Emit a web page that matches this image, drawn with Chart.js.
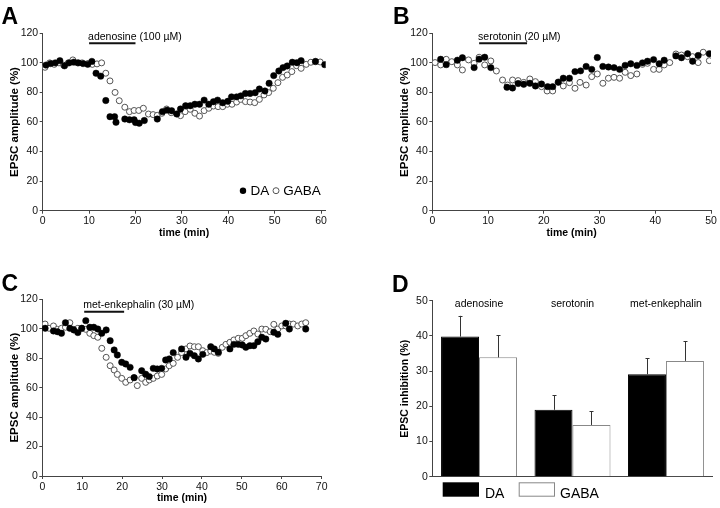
<!DOCTYPE html>
<html>
<head>
<meta charset="utf-8">
<script src="https://cdn.jsdelivr.net/npm/chart.js@4.4.1/dist/chart.umd.min.js"></script>
<style>
    body { margin: 0; background: #fff; }
    #wrap { position: relative; width: 720px; height: 508px; }
    canvas { position: absolute; }
</style>
</head>
<body>
<div id="wrap">
    <canvas id="panelA" width="360" height="250" style="left:0;top:0"></canvas>
    <canvas id="panelB" width="360" height="250" style="left:360px;top:0"></canvas>
    <canvas id="panelC" width="360" height="258" style="left:0;top:250px"></canvas>
    <canvas id="panelD" width="360" height="258" style="left:360px;top:250px"></canvas>
</div>
<script>
const FONT = "'Liberation Sans', Arial, Helvetica, sans-serif";

// tick labels
const timeTicksA = [0, 10, 20, 30, 40, 50, 60];
const timeTicksB = [0, 10, 20, 30, 40, 50];
const timeTicksC = [0, 10, 20, 30, 40, 50, 60, 70];
const amplitudeTicks = [0, 20, 40, 60, 80, 100, 120];
const inhibitionTicks = [0, 10, 20, 30, 40, 50];

// A: adenosine, [time (min), EPSC amplitude (%)]
const adenosineDA = [[0.7,98.5],[1.7,99.5],[2.7,100],[3.7,101.5],[4.7,98],[5.7,100],[6.7,100.5],[7.7,100],[8.7,99.5],[9.7,99],
    [10.6,101],[11.5,93],[12.5,91],[13.6,74.5],[14.5,63.6],[15.5,63.6],[15.8,59.8],[17.7,62],[18.7,61.5],[19.7,61.5],
    [20.0,59.7],[20.8,59.2],[21.9,61],[24.7,62],[25.8,67],[26.8,68],[27.8,67.6],[28.9,65.4],[29.7,68.8],[30.8,71],
    [31.8,71],[32.8,72],[33.8,72],[34.8,74.8],[35.8,72],[36.8,73.7],[37.7,74.8],[38.8,73],[39.9,74],[40.7,77],
    [41.8,77],[42.7,77.7],[43.7,79.3],[44.7,79.3],[45.8,79.8],[46.7,82.3],[47.9,81],[48.8,86.2],[49.8,91.4],[50.9,94.5],
    [51.8,96.8],[52.7,97.9],[53.8,100.4],[54.8,100.1],[55.7,101.5],[58.8,101],[60.8,98.8]];
const adenosineGABA = [[0.5,97],[1.5,100],[2.5,99],[3.5,100],[4.5,98.5],[5.5,100],[6.5,102],[7.5,100],[8.5,100],[9.7,99.5],
    [10.7,99],[11.7,99.3],[12.7,100],[13.6,93],[14.5,87.8],[15.6,80],[16.5,74.4],[17.7,70],[18.7,67],[19.7,67.8],
    [20.7,67.8],[21.7,69.3],[22.8,65.4],[23.8,65],[24.7,64.5],[25.7,65.9],[26.7,68.8],[27.7,66.3],[29.7,64.3],[30.7,67],
    [31.8,68.6],[32.8,65.9],[33.8,64],[34.8,67.7],[35.8,69.3],[36.8,70.8],[37.8,70.4],[38.8,70.4],[39.8,72],[40.8,72],
    [41.8,73.5],[42.7,75.3],[43.7,73.8],[44.7,73.5],[45.7,73.1],[46.7,75.3],[47.7,78.3],[48.7,79.9],[49.7,82.8],[50.7,86.6],
    [51.7,90.2],[52.7,91.8],[53.7,94.1],[54.7,98.1],[55.7,96.3],[56.8,99],[57.8,100.4],[58.8,100.8],[59.8,100.6]];

// B: serotonin
const serotoninDA = [[1.5,102.4],[2.5,98.8],[4.5,101.8],[5.4,103.5],[7.5,96.8],[8.4,102.5],[9.4,103.8],[10.5,96.8],[13.4,83.5],[14.4,83],
    [15.4,86],[16.4,85.5],[17.5,86.2],[18.5,84.4],[19.6,85.7],[20.7,83.9],[21.6,83.9],[22.6,87],[23.5,89.6],[24.6,89.6],
    [25.6,94.1],[26.6,94.6],[27.6,97.6],[28.6,95.6],[29.6,103.6],[30.6,97.6],[31.6,97.2],[32.6,96.8],[33.6,95.6],[34.6,98.3],
    [35.6,99.4],[36.7,98.3],[37.7,100],[38.6,101.1],[39.7,102.2],[40.7,99.4],[41.6,101.8],[43.7,104.7],[44.7,103.5],[45.8,106.2],
    [46.7,101.1],[47.7,105],[49.7,106.2]];
const serotoninGABA = [[0.5,100.2],[1.5,98.6],[2.5,102.4],[3.5,100.8],[4.5,98.6],[5.4,95.2],[6.5,102],[7.5,99.7],[8.4,103.8],[9.4,98.6],
    [10.5,101.3],[11.5,94.5],[12.6,88.4],[13.5,85],[14.4,88.4],[15.4,88],[16.4,86.8],[17.5,89.1],[18.5,87.3],[19.6,83.9],
    [20.6,81],[21.6,81],[22.6,86.8],[23.5,84.4],[24.6,86.6],[25.6,82.8],[26.5,86.8],[27.6,85],[28.6,90.7],[29.6,92.5],
    [30.6,86.2],[31.6,89.6],[32.6,90.2],[33.6,89.6],[34.6,93.6],[35.6,91.4],[36.7,92.5],[37.7,99],[38.6,99.7],[39.7,95.6],
    [40.7,95.6],[41.6,98.6],[42.6,100.2],[43.7,106],[44.7,105.3],[45.8,104.2],[46.7,104.2],[47.7,100.2],[48.6,107.2],[49.7,101.5]];

// C: met-enkephalin
const enkephalinDA = [[0.7,100.3],[2.8,98.5],[3.8,98],[4.8,96.9],[5.8,104.1],[6.9,100.3],[7.9,99.2],[8.9,97.4],[9.9,100.3],[10.9,105.5],
    [11.9,101],[12.9,101],[13.9,99.8],[14.9,96.9],[16,99.2],[17,91.9],[18,85.6],[18.8,82.2],[19.9,77.2],[20.9,76.1],
    [22,73.8],[23,66.8],[24.9,71.5],[25.9,69.1],[26.8,67.5],[27.8,73.1],[28.8,72.7],[29.9,73.1],[30.9,78.8],[31.8,79.5],
    [32.8,83.8],[34.9,86.3],[36,80.6],[37,83.3],[38.1,81.7],[39.1,79.5],[40.2,82.6],[42.2,87.8],[43.1,86.3],[44.1,84],
    [47,86.3],[48,89.4],[49.1,89.4],[50.1,89],[51,87.4],[52,88.5],[53,88.5],[54,91.2],[55,94.2],[56,93],
    [58,97.6],[59,96.2],[61,103.7],[61.9,99.8],[66,99.8]];
const enkephalinGABA = [[0.7,103.2],[1.7,100.3],[2.8,101.9],[3.8,99.6],[4.8,100.3],[5.8,101],[6.9,104.1],[7.9,99.6],[8.9,100.3],[9.9,100.3],
    [10.9,99.6],[11.9,96.9],[12.9,95.3],[13.9,94.2],[14.9,86.7],[16,80.6],[17,74.9],[18,72],[18.8,69],[19.9,66.3],
    [20.9,63.6],[22,65.2],[23,66.8],[23.8,61.4],[24.9,66.3],[25.9,63.6],[26.8,65.2],[27.8,66.3],[28.8,67.9],[29.9,69],
    [30.9,72.7],[31.8,74.9],[32.8,76.5],[33.9,80.6],[34.9,83.8],[36,86.3],[37,88.3],[38.1,87.8],[39.1,87.8],[40.2,85.1],
    [41.2,83.8],[42.2,84.9],[43.1,84],[44.1,83.3],[45.1,87.4],[46,89.4],[47,90.8],[48,92.4],[49.1,93.5],[50.1,93.5],
    [51,95.3],[52,96.9],[53,98.5],[54,96.4],[55,99.8],[56,99.6],[57.1,98],[58,103],[59,99.8],[60,101.9],
    [61,101.9],[61.9,103.2],[62.9,103.2],[64,101.9],[65,103.2],[66,104.1]];

// drug application bars: [start, end] in min, drawn at the given amplitude level
const adenosineApplication = [10, 20];
const serotoninApplication = [8.4, 17.0];
const enkephalinApplication = [10.5, 20.5];
const applicationLevelA = 113.3;
const applicationLevelB = 113.3;
const applicationLevelC = 111.6;

// D: inhibition summary
const drugs = ['adenosine', 'serotonin', 'met-enkephalin'];
const inhibitionDA = [39.8, 19.0, 29.1];
const inhibitionGABA = [33.9, 14.7, 32.9];
const errorDA = [5.9, 4.1, 4.5];
const errorGABA = [6.3, 3.9, 5.6];

const toXY = pts => pts.map(p => ({ x: p[0], y: p[1] }));

function axisStyle() {
    return {
        grid: { display: true, drawOnChartArea: false, drawTicks: true, tickLength: 3, color: '#444' },
        border: { display: true, color: '#444', width: 1 },
        ticks: { font: { family: FONT, size: 10.5 }, color: '#111', padding: 1.5, maxRotation: 0 }
    };
}

// panel letter, drug label, inline legend
function decorations(cfg) {
    return {
        id: 'decor',
        afterDraw(chart) {
            const ctx = chart.ctx;
            ctx.save();
            ctx.fillStyle = '#000';
            ctx.textBaseline = 'alphabetic';
            ctx.font = 'bold 23px ' + FONT;
            ctx.fillText(cfg.letter[0], cfg.letter[1], cfg.letter[2]);

            if (cfg.drug) {
                const x = chart.scales.x.getPixelForValue(cfg.drug.start);
                const y = chart.scales.y.getPixelForValue(cfg.drug.level);
                ctx.font = '10.5px ' + FONT;
                ctx.fillText(cfg.drug.text, x - 1, y - 3.5);
            }

            if (cfg.dotLegend) {
                const l = cfg.dotLegend;
                ctx.font = '13.5px ' + FONT;
                ctx.textBaseline = 'middle';
                ctx.beginPath();
                ctx.arc(l.x, l.y, 3.2, 0, Math.PI * 2);
                ctx.fill();
                ctx.fillText('DA', l.x + 7.5, l.y + 0.5);
                ctx.beginPath();
                ctx.arc(l.x + 33, l.y, 3, 0, Math.PI * 2);
                ctx.strokeStyle = '#555';
                ctx.lineWidth = 1;
                ctx.stroke();
                ctx.fillText('GABA', l.x + 40.3, l.y + 0.5);
            }

            if (cfg.boxLegend) {
                const l = cfg.boxLegend;
                ctx.fillRect(l.x, l.y, 36.3, 14.4);
                ctx.font = '14px ' + FONT;
                ctx.fillText('DA', l.x + 42.3, l.y + 15.2);
                ctx.fillStyle = '#fff';
                ctx.fillRect(l.x + 76, l.y, 36.3, 14.4);
                ctx.strokeStyle = '#888';
                ctx.lineWidth = 1;
                ctx.strokeRect(l.x + 76.5, l.y + 0.5, 35.3, 13.4);
                ctx.fillStyle = '#000';
                ctx.fillText('GABA', l.x + 117.3, l.y + 15.2);
            }
            ctx.restore();
        }
    };
}

function buildTimeCourse(id, p) {
    const canvas = document.getElementById(id);
    const W = canvas.width, H = canvas.height;
    const x = axisStyle(), y = axisStyle();

    Object.assign(x, {
        type: 'linear', min: 0, max: p.xMax,
        afterFit: s => { s.height = H - p.area.bottom; },
        afterBuildTicks: s => { s.ticks = p.xTicks.map(v => ({ value: v })); },
        title: { display: true, text: 'time (min)', color: '#000',
            font: { family: FONT, size: 10.5, weight: 'bold' }, padding: { top: 0, bottom: p.xTitlePad } }
    });
    Object.assign(y, {
        type: 'linear', min: 0, max: 120,
        afterFit: s => { s.width = p.area.left; },
        afterBuildTicks: s => { s.ticks = amplitudeTicks.map(v => ({ value: v })); },
        title: { display: true, text: 'EPSC amplitude (%)', color: '#000',
            font: { family: FONT, size: 11.5, weight: 'bold' }, padding: { top: p.yTitlePad, bottom: 0 } }
    });

    return new Chart(canvas.getContext('2d'), {
        type: 'scatter',
        data: {
            datasets: [
                {
                    label: 'DA', data: toXY(p.da),
                    pointRadius: 3.2, pointBackgroundColor: '#000', pointBorderColor: '#000', pointBorderWidth: 0.5
                },
                {
                    label: 'GABA', data: toXY(p.gaba),
                    pointRadius: 3, pointBackgroundColor: '#fff', pointBorderColor: '#555', pointBorderWidth: 1
                },
                {
                    label: 'application', data: p.bar.map(t => ({ x: t, y: p.barLevel })),
                    showLine: true, borderColor: '#111', borderWidth: 2, pointRadius: 0
                }
            ]
        },
        options: {
            responsive: false, animation: false, devicePixelRatio: 1,
            layout: { padding: { left: 0, top: p.area.top, right: W - p.area.right, bottom: 0 } },
            plugins: { legend: { display: false }, tooltip: { enabled: false } },
            scales: { x: x, y: y }
        },
        plugins: [decorations(p.decor)]
    });
}

buildTimeCourse('panelA', {
    da: adenosineDA, gaba: adenosineGABA, bar: adenosineApplication, barLevel: applicationLevelA,
    xMax: 61, xTicks: timeTicksA,
    area: { left: 42.7, right: 325.7, top: 33.3, bottom: 210.7 },
    xTitlePad: 10.4, yTitlePad: 8.1,
    decor: {
        letter: ['A', 1.5, 24],
        drug: { text: 'adenosine (100 µM)', start: adenosineApplication[0], level: applicationLevelA },
        dotLegend: { x: 243, y: 190.7 }
    }
});

buildTimeCourse('panelB', {
    da: serotoninDA, gaba: serotoninGABA, bar: serotoninApplication, barLevel: applicationLevelB,
    xMax: 50, xTicks: timeTicksB,
    area: { left: 72.3, right: 351, top: 33.3, bottom: 210.7 },
    xTitlePad: 10.4, yTitlePad: 38.1,
    decor: {
        letter: ['B', 33, 24],
        drug: { text: 'serotonin (20 µM)', start: serotoninApplication[0], level: applicationLevelB }
    }
});

buildTimeCourse('panelC', {
    da: enkephalinDA, gaba: enkephalinGABA, bar: enkephalinApplication, barLevel: applicationLevelC,
    xMax: 70, xTicks: timeTicksC,
    area: { left: 42.3, right: 321.7, top: 49.3, bottom: 226 },
    xTitlePad: 3.4, yTitlePad: 8.1,
    decor: {
        letter: ['C', 1.5, 40.7],
        drug: { text: 'met-enkephalin (30 µM)', start: enkephalinApplication[0], level: applicationLevelC }
    }
});

// D: bar summary with error bars
const errorBars = {
    id: 'errorBars',
    afterDatasetsDraw(chart) {
        const ctx = chart.ctx;
        const yScale = chart.scales.y;
        ctx.save();
        ctx.strokeStyle = '#333';
        ctx.lineWidth = 1;
        chart.data.datasets.forEach((ds, i) => {
            chart.getDatasetMeta(i).data.forEach((bar, j) => {
                const top = yScale.getPixelForValue(ds.data[j] + ds.errors[j]);
                const x = Math.round(bar.x) + 0.5;
                ctx.beginPath();
                ctx.moveTo(x, bar.y);
                ctx.lineTo(x, top);
                ctx.moveTo(x - 2, Math.round(top) + 0.5);
                ctx.lineTo(x + 2, Math.round(top) + 0.5);
                ctx.stroke();
            });
        });
        ctx.restore();
    }
};

const categoryLabels = {
    id: 'categoryLabels',
    afterDraw(chart) {
        const ctx = chart.ctx;
        const xScale = chart.scales.x;
        ctx.save();
        ctx.fillStyle = '#000';
        ctx.font = '10.5px ' + FONT;
        ctx.textAlign = 'center';
        ctx.textBaseline = 'alphabetic';
        chart.data.labels.forEach((label, i) => {
            ctx.fillText(label, xScale.getPixelForValue(i), chart.chartArea.top + 6);
        });
        ctx.restore();
    }
};

(function buildSummary() {
    const canvas = document.getElementById('panelD');
    const area = { left: 72.3, right: 352.7, top: 50.7, bottom: 226.7 };
    const y = axisStyle();
    Object.assign(y, {
        min: 0, max: 50,
        afterFit: s => { s.width = area.left; },
        afterBuildTicks: s => { s.ticks = inhibitionTicks.map(v => ({ value: v })); },
        title: { display: true, text: 'EPSC inhibition (%)', color: '#000',
            font: { family: FONT, size: 10.5, weight: 'bold' }, padding: { top: 38.7, bottom: 0 } }
    });

    new Chart(canvas.getContext('2d'), {
        type: 'bar',
        data: {
            labels: drugs,
            datasets: [
                {
                    label: 'DA', data: inhibitionDA, errors: errorDA,
                    backgroundColor: '#000', borderColor: '#000', borderWidth: 1,
                    categoryPercentage: 0.813, barPercentage: 1
                },
                {
                    label: 'GABA', data: inhibitionGABA, errors: errorGABA,
                    backgroundColor: '#fff', borderColor: '#888', borderWidth: 1,
                    categoryPercentage: 0.813, barPercentage: 1
                }
            ]
        },
        options: {
            responsive: false, animation: false, devicePixelRatio: 1,
            layout: { padding: { left: 0, top: area.top, right: canvas.width - area.right, bottom: 0 } },
            plugins: { legend: { display: false }, tooltip: { enabled: false } },
            scales: {
                x: {
                    afterFit: s => { s.height = canvas.height - area.bottom; },
                    grid: { display: false },
                    border: { display: true, color: '#444', width: 1 },
                    ticks: { display: false }
                },
                y: y
            }
        },
        plugins: [errorBars, categoryLabels, decorations({
            letter: ['D', 32, 41.7],
            boxLegend: { x: 82.7, y: 232.3 }
        })]
    });
})();
</script>
</body>
</html>
